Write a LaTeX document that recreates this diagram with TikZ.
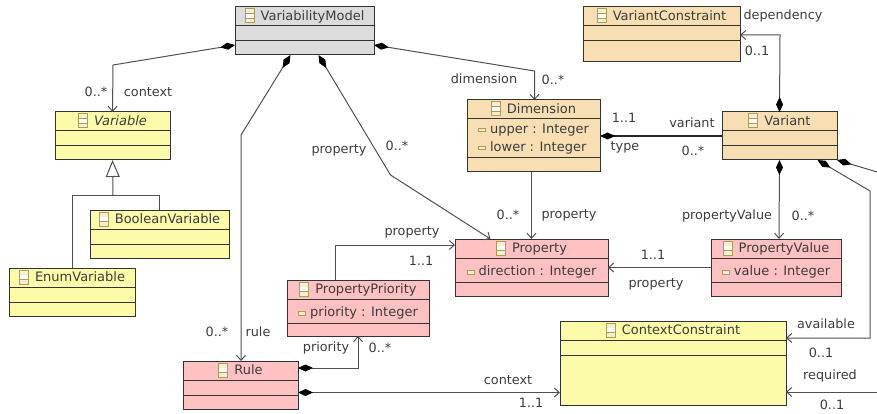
\documentclass[tikz,border=0pt]{standalone}
\usepackage{fontspec}
\setmainfont{DejaVu Sans}
\usetikzlibrary{arrows.meta,shapes.multipart}
\definecolor{inkgrey}{HTML}{3C3C3C}
\definecolor{linegrey}{HTML}{505050}
\definecolor{modelgrey}{HTML}{DCDCDC}
\definecolor{ctxyellow}{HTML}{FBFBA9}
\definecolor{dimtan}{HTML}{F7DFB3}
\definecolor{rulepink}{HTML}{FFC1C1}
\definecolor{iconedge}{HTML}{B09A55}
\definecolor{iconfill}{HTML}{F2EFD2}
\newcommand\classicon{\rlap{\textcolor{iconedge}{\rule[-3pt]{10pt}{15pt}}}%
  \hspace{1pt}\rlap{\textcolor{iconfill}{\rule[-2pt]{8pt}{3.8pt}}}%
  \rlap{\textcolor{white}{\rule[2.4pt]{8pt}{4pt}}}%
  \rlap{\textcolor{iconfill}{\rule[7pt]{8pt}{4pt}}}\hspace{15pt}}
\newcommand\attricon{\rlap{\textcolor{iconedge}{\rule[1pt]{8pt}{4.6pt}}}%
  \hspace{1pt}\rlap{\textcolor{iconfill}{\rule[2pt]{6pt}{2.6pt}}}\hspace{11pt}}
\newcommand\headpart[1]{\rule[-5pt]{0pt}{18pt}\classicon #1}
\newcommand\gappart[1]{\hbox to 1pt{\hss\rule{0pt}{#1pt}}}
\newcommand\attrpart[1]{\color{inkgrey}\rule[-6pt]{0pt}{23pt}\attricon #1}
\tikzstyle{bt} = [rectangle split, rectangle split parts=3, draw=black!80, line width=1pt,
    anchor=north west, inner ysep=0pt, inner xsep=0pt, outer sep=0pt,
    font=\fontsize{13}{15}\selectfont, text=inkgrey]
\tikzstyle{lbl} = [inner sep=0pt, text=inkgrey, font=\fontsize{12.8}{15}\selectfont]
\tikzstyle{plain} = [draw=linegrey, line width=1pt]
\tikzstyle{assoc} = [plain, -{Straight Barb[length=5pt,width=9pt]}]
\tikzstyle{comp} = [plain, {Diamond[length=15pt,width=7pt,black]}-{Straight Barb[length=5pt,width=9pt]}]
\tikzstyle{compopen} = [plain, {Diamond[length=15pt,width=7pt,black]}-]
\tikzstyle{gen} = [plain, {Triangle[open,length=17pt,width=14pt,fill=white]}-]

\begin{document}
\begin{tikzpicture}[x=1pt,y=-1pt]
  \useasboundingbox (0,0) rectangle (877,414);

  \node[bt,fill=modelgrey,minimum width=139pt] (model) at (235,7)
    {\headpart{VariabilityModel}\nodepart{two}\gappart{14}\nodepart{three}\gappart{13}};
  \node[bt,fill=dimtan,minimum width=157pt] (vconstraint) at (583,7)
    {\headpart{VariantConstraint}\nodepart{two}\gappart{14}\nodepart{three}\gappart{20}};
  \node[bt,fill=ctxyellow,minimum width=115pt] (variable) at (55,112)
    {\headpart{\itshape Variable}\nodepart{two}\gappart{14}\nodepart{three}\gappart{13}};
  \node[bt,fill=ctxyellow,minimum width=139pt] (boolvar) at (90,210)
    {\headpart{BooleanVariable}\nodepart{two}\gappart{14}\nodepart{three}\gappart{13}};
  \node[bt,fill=ctxyellow,minimum width=126pt] (enumvar) at (9,268)
    {\headpart{EnumVariable}\nodepart{two}\gappart{14}\nodepart{three}\gappart{13}};
  \node[bt,fill=dimtan,minimum width=133pt] (dimension) at (467,100)
    {\headpart{Dimension}\nodepart{two}\color{inkgrey}\vbox{\baselineskip=18pt\hbox{\rule{0pt}{14pt}\attricon upper : Integer}\hbox{\rule[-6pt]{0pt}{14pt}\attricon lower : Integer}}\nodepart{three}\gappart{13}};
  \node[bt,fill=dimtan,minimum width=115pt] (variant) at (722,112)
    {\headpart{Variant}\nodepart{two}\gappart{14}\nodepart{three}\gappart{13}};
  \node[bt,fill=rulepink,minimum width=153pt] (property) at (455,239)
    {\headpart{Property}\nodepart{two}\attrpart{direction : Integer}\nodepart{three}\gappart{13}};
  \node[bt,fill=rulepink,minimum width=130pt] (pvalue) at (711,239)
    {\headpart{PropertyValue}\nodepart{two}\attrpart{value : Integer}\nodepart{three}\gappart{13}};
  \node[bt,fill=rulepink,minimum width=142pt] (ppriority) at (287,280)
    {\headpart{PropertyPriority}\nodepart{two}\attrpart{priority : Integer}\nodepart{three}\gappart{12}};
  \node[bt,fill=rulepink,minimum width=115pt] (rule) at (183,361)
    {\headpart{Rule}\nodepart{two}\gappart{14}\nodepart{three}\gappart{13}};
  \node[bt,fill=ctxyellow,minimum width=226pt] (cconstraint) at (560,321)
    {\headpart{ContextConstraint}\nodepart{two}\gappart{14}\nodepart{three}\gappart{49}};

  % bend points
  \coordinate (contextbend) at (113,65);
  \coordinate (rulebend) at (241,135);
  \coordinate (propbend) at (390.5,175);
  \coordinate (dimbend) at (534.5,71);
  \coordinate (depbend) at (780,35);
  \coordinate (availbend) at (870,191);
  \coordinate (availcorner) at (870,338);
  \coordinate (reqout) at (877,172);
  \coordinate (reqin) at (877,392);
  \coordinate (priobend) at (358,368);
  \coordinate (ppbend) at (335.5,245);
  \coordinate (genjoint) at (113,195);
  \coordinate (genleft) at (72.5,195);
  \coordinate (genright) at (159.5,195);

  \draw[comp] ([yshift=-14pt]model.west) -- (contextbend) -- (variable.north);
  \draw[comp] ([xshift=-14pt]model.south) -- (rulebend) -- (rulebend |- rule.north);
  \draw[comp] ([xshift=14pt]model.south) -- (propbend) -- ([xshift=-41pt]property.north);
  \draw[comp] ([yshift=-14pt]model.east) -- (dimbend) -- (dimbend |- dimension.north);
  \draw[comp] (variant.north) -- (depbend) -- (depbend -| vconstraint.east);
  \draw[compopen,line width=1.6pt,draw=black!85] (dimension.east |- variant.west) -- (variant.west);
  \draw[assoc] ([xshift=-2pt]dimension.south) -- (property.north);
  \draw[comp] (variant.south) -- ([xshift=3pt]pvalue.north);
  \draw[comp] ([xshift=38pt]variant.south) -- (availbend) -- (availcorner) -- (availcorner -| cconstraint.east);
  \draw[compopen] (variant.south east) -- (reqout);
  \draw[assoc] (reqin) -- (reqin -| cconstraint.east);
  \draw[assoc] (pvalue.west |- property.east) -- (property.east);
  \draw[assoc] ([xshift=-22.5pt]ppriority.north) -- (ppbend) -- (ppbend -| property.west);
  \draw[comp] (priobend -| rule.east) -- (priobend) -- (ppriority.south);
  \draw[comp] ([yshift=-7.5pt]rule.east) -- ([yshift=-7.5pt]rule.east -| cconstraint.west);
  \draw[gen] (variable.south) -- (genjoint);
  \draw[plain] (genleft |- enumvar.north) -- (genleft) -- (genright) -- (genright |- boolvar.north);

  \node[lbl] (ctxmult)  at (96,92)   {0..*};
  \node[lbl] (ctxrole)  at (148,92)  {context};
  \node[lbl] (prole)    at (339,150) {property};
  \node[lbl] (pmult)    at (397,146) {0..*};
  \node[lbl] (dimrole)  at (484,79)  {dimension};
  \node[lbl] (dimmult)  at (553,80)  {0..*};
  \node[lbl] (deprole)  at (783,16)  {dependency};
  \node[lbl] (depmult)  at (757,51)  {0..1};
  \node[lbl] (typemult) at (624,118) {1..1};
  \node[lbl] (typerole) at (625,147) {type};
  \node[lbl] (varrole)  at (692,123) {variant};
  \node[lbl] (varmult)  at (693,151) {0..*};
  \node[lbl] (dpmult)   at (508,215) {0..*};
  \node[lbl] (dprole)   at (569,215) {property};
  \node[lbl] (pvrole)   at (727,216) {propertyValue};
  \node[lbl] (pvmult)   at (803,216) {0..*};
  \node[lbl] (vpmult)   at (653,255) {1..1};
  \node[lbl] (vprole)   at (656,284) {property};
  \node[lbl] (pprole)   at (412,232) {property};
  \node[lbl] (ppmult)   at (421,261) {1..1};
  \node[lbl] (rulemult) at (217,332) {0..*};
  \node[lbl] (rulerole) at (258,332) {rule};
  \node[lbl] (priorole) at (326,348) {priority};
  \node[lbl] (priomult) at (380,348) {0..*};
  \node[lbl] (avrole)   at (826,324) {available};
  \node[lbl] (avmult)   at (821,353) {0..1};
  \node[lbl] (reqrole)  at (830,376) {required};
  \node[lbl] (reqmult)  at (832,405) {0..1};
  \node[lbl] (ccrole)   at (508,380) {context};
  \node[lbl] (ccmult)   at (531,403) {1..1};
\end{tikzpicture}
\end{document}
